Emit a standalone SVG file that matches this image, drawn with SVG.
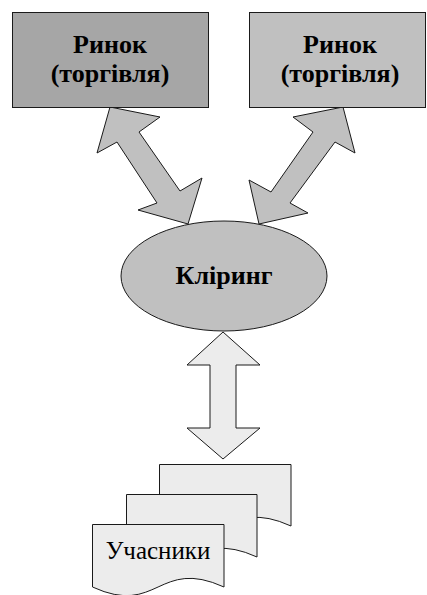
<svg xmlns="http://www.w3.org/2000/svg" width="427" height="595" viewBox="0 0 427 595">
<style>
.s{stroke:#1a1a1a;stroke-width:1;stroke-linejoin:miter}
.b{font-family:"Liberation Serif","Times New Roman",serif;font-weight:bold;font-size:26px;text-anchor:middle;fill:#000}
.n{font-family:"Liberation Serif","Times New Roman",serif;font-size:25px;text-anchor:middle;fill:#000}
.doc{fill:#ececec}
</style>
<rect width="427" height="595" fill="#fff"/>
<g id="connectors">
<polygon class="s" fill="#c0c0c0" points="110,107 160,117 139,132 180,191 202,178 188,224 138,210 157,203 117,142 97,153"/>
<polygon class="s" fill="#c0c0c0" points="343,107 355,153 335,142 290,203 308,213 259,224 249,180 271,192 313,132 293,117"/>
<polygon class="s" fill="#ececec" points="223,332 260,365 236,365 236,428 260,428 223,459 187,428 210,428 210,365 187,365"/>
</g>
<g id="market1">
<rect class="s" x="12.5" y="12.5" width="196" height="95" fill="#a6a6a6"/>
<text class="b" x="110" y="53">Ринок</text>
<text class="b" x="110" y="82">(торгівля)</text>
</g>
<g id="market2">
<rect class="s" x="249.5" y="12.5" width="176" height="95" fill="#c0c0c0"/>
<text class="b" x="340" y="53">Ринок</text>
<text class="b" x="340" y="82">(торгівля)</text>
</g>
<g id="clearing">
<ellipse class="s" cx="224" cy="276" rx="103" ry="55" fill="#c0c0c0"/>
<text class="b" x="224" y="284">Кліринг</text>
</g>
<g id="participants">
<path class="s doc" d="M159.5,464.5 H291 V526 C225,496 225,556 159.5,526 Z"/>
<path class="s doc" d="M126.5,494.5 H257 V557 C191,527 191,587 126.5,557 Z"/>
<path class="s doc" d="M92.5,524.5 H224 V587 C158,557 158,617 92.5,587 Z"/>
<text class="n" x="158" y="559">Учасники</text>
</g>
</svg>
